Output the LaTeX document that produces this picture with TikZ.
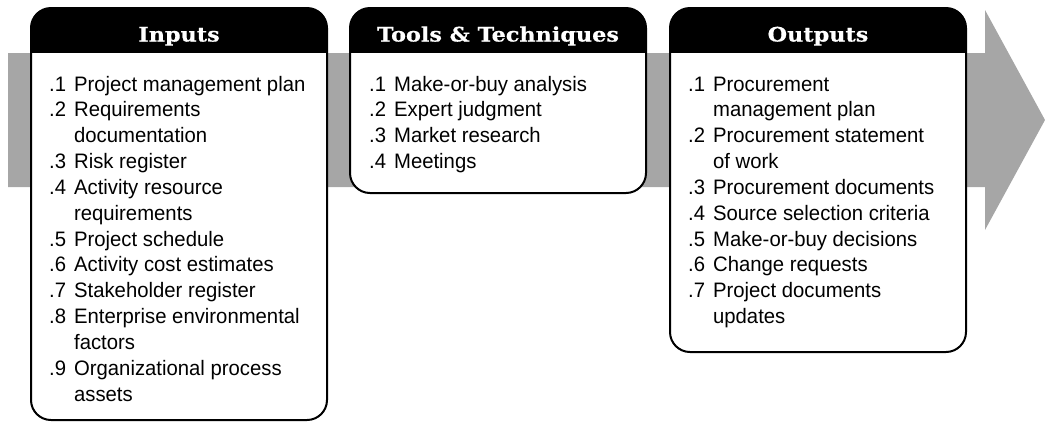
\documentclass[tikz,border=0pt]{standalone}
\usepackage{fontspec}
\setmainfont[FakeStretch=0.97]{Liberation Sans}
\newfontfamily\headfont[FakeStretch=1.12,BoldFont={DejaVu Serif Bold},BoldFeatures={FakeStretch=1.12,FakeBold=0.6}]{DejaVu Serif}
\definecolor{bandgray}{HTML}{A6A6A6}
\tikzset{
  listtext/.style={anchor=base west, inner sep=0pt, font=\fontsize{21}{25.95}\selectfont},
  headtext/.style={anchor=base, inner sep=0pt, text=white, font=\headfont\bfseries\fontsize{20}{22}\selectfont},
  boxline/.style={draw=black, line width=2bp, rounded corners=20bp},
}
\newcommand{\procbox}[5]{% name, left, right, bottom, title
  \begin{scope}
    \clip[rounded corners=20bp] (#2,8) rectangle (#3,#4);
    \fill[white] (#2,8) rectangle (#3,#4);
    \fill[black] (#2,8) rectangle (#3,53);
  \end{scope}
  \draw[boxline] (#2,8) rectangle (#3,#4);
  \node[headtext] (#1) at ({(#2+#3)/2},41.5) {#5};
}
\begin{document}
\begin{tikzpicture}[x=1bp,y=-1bp]
\useasboundingbox (0,0) rectangle (1045,422);
\fill[bandgray] (8,53) -- (985,53) -- (985,10) -- (1045,120) -- (985,230) -- (985,187) -- (8,187) -- cycle;
\procbox{inhead}{31}{327}{420}{Inputs}
\procbox{tthead}{350}{646}{193}{Tools \& Techniques}
\procbox{outhead}{670}{966}{352}{Outputs}
\node[listtext] (inlist) at (49,91) {\begin{tabular}[t]{@{}l@{\hspace{8bp}}l@{}}
.1 & Project management plan\\
.2 & Requirements\\
   & documentation\\
.3 & Risk register\\
.4 & Activity resource\\
   & requirements\\
.5 & Project schedule\\
.6 & Activity cost estimates\\
.7 & Stakeholder register\\
.8 & Enterprise environmental\\
   & factors\\
.9 & Organizational process\\
   & assets
\end{tabular}};
\node[listtext] (ttlist) at (369,91) {\begin{tabular}[t]{@{}l@{\hspace{8bp}}l@{}}
.1 & Make-or-buy analysis\\
.2 & Expert judgment\\
.3 & Market research\\
.4 & Meetings
\end{tabular}};
\node[listtext] (outlist) at (688,91) {\begin{tabular}[t]{@{}l@{\hspace{8bp}}l@{}}
.1 & Procurement\\
   & management plan\\
.2 & Procurement statement\\
   & of work\\
.3 & Procurement documents\\
.4 & Source selection criteria\\
.5 & Make-or-buy decisions\\
.6 & Change requests\\
.7 & Project documents\\
   & updates
\end{tabular}};
\end{tikzpicture}
\end{document}
